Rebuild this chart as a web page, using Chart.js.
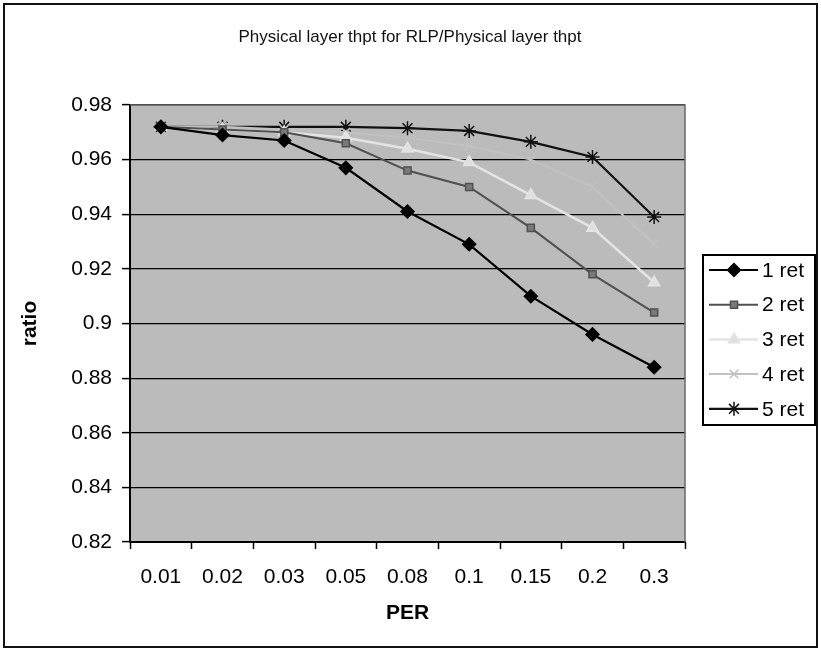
<!DOCTYPE html>
<html>
<head>
<meta charset="utf-8">
<title>Physical layer thpt for RLP/Physical layer thpt</title>
<script src="https://cdn.jsdelivr.net/npm/chart.js@4.4.1/dist/chart.umd.min.js"></script>
<style>
  html, body { margin: 0; padding: 0; background: #fff; }
  canvas { display: block; }
</style>
</head>
<body>
<canvas id="ratioChart" width="821" height="652"></canvas>
<script>
// PER values on the x axis
const perLabels = ['0.01', '0.02', '0.03', '0.05', '0.08', '0.1', '0.15', '0.2', '0.3'];

// ratio per number of retransmissions
const ret1 = [0.972, 0.969, 0.967, 0.957, 0.941, 0.929, 0.910, 0.896, 0.884];
const ret2 = [0.972, 0.971, 0.970, 0.966, 0.956, 0.950, 0.935, 0.918, 0.904];
const ret3 = [0.972, 0.971, 0.970, 0.968, 0.964, 0.959, 0.947, 0.935, 0.915];
const ret4 = [0.972, 0.972, 0.971, 0.970, 0.968, 0.965, 0.960, 0.950, 0.929];
const ret5 = [0.972, 0.972, 0.972, 0.972, 0.9715, 0.9705, 0.9665, 0.961, 0.939];

const yTicks = [0.82, 0.84, 0.86, 0.88, 0.9, 0.92, 0.94, 0.96, 0.98];

const FONT = '"Liberation Sans", Arial, Helvetica, sans-serif';
const PLOT_BG = '#bbbbbb';

function series(label, data, color, pointStyle, radius, fill, lineWidth) {
  return {
    label, data,
    borderColor: color,
    borderWidth: lineWidth,
    pointStyle,
    pointRadius: radius,
    pointHoverRadius: radius,
    pointBackgroundColor: fill,
    pointBorderColor: color,
    pointBorderWidth: 1.5,
    tension: 0,
    fill: false
  };
}

const datasets = [
  series('1 ret', ret1, '#000000', 'rectRot', 6.5, '#000000', 2.2),
  series('2 ret', ret2, '#505050', 'rect', 5, '#7a7a7a', 2),
  series('3 ret', ret3, '#e4e4e4', 'triangle', 6.5, '#e0e0e0', 2.5),
  series('4 ret', ret4, '#c1c1c1', 'crossRot', 6, '#c1c1c1', 2),
  series('5 ret', ret5, '#111111', 'star', 7, '#111111', 2.2)
];

// gray plot background, plot frame, title, outer border and boxed legend
const frame = {
  id: 'frame',
  beforeDraw(chart) {
    const { ctx, chartArea: a } = chart;
    ctx.save();
    ctx.fillStyle = PLOT_BG;
    ctx.fillRect(a.left, a.top, a.right - a.left, a.bottom - a.top);
    ctx.restore();
  },
  afterDatasetsDraw(chart) {
    const { ctx, chartArea: a } = chart;
    ctx.save();
    ctx.strokeStyle = '#6a6a6a';
    ctx.lineWidth = 1.5;
    ctx.beginPath();
    ctx.moveTo(a.left, a.top);
    ctx.lineTo(a.right, a.top);
    ctx.lineTo(a.right, a.bottom);
    ctx.stroke();
    ctx.restore();
  },
  afterDraw(chart) {
    const { ctx } = chart;
    ctx.save();
    // title
    ctx.fillStyle = '#111';
    ctx.font = '17px ' + FONT;
    ctx.textAlign = 'center';
    ctx.textBaseline = 'middle';
    ctx.fillText('Physical layer thpt for RLP/Physical layer thpt', 410, 37);

    // outer border
    ctx.strokeStyle = '#111';
    ctx.lineWidth = 2;
    ctx.strokeRect(4, 4, 813, 643);

    // legend box
    const lx = 703, ly = 255, lw = 112, lh = 170;
    ctx.fillStyle = '#fff';
    ctx.fillRect(lx, ly, lw, lh);
    ctx.strokeStyle = '#000';
    ctx.lineWidth = 2;
    ctx.strokeRect(lx, ly, lw, lh);

    ctx.font = '21px ' + FONT;
    ctx.textAlign = 'left';
    chart.data.datasets.forEach((ds, i) => {
      const y = ly + 15 + i * 34.7;
      ctx.strokeStyle = ds.borderColor;
      ctx.lineWidth = ds.borderWidth;
      ctx.beginPath();
      ctx.moveTo(lx + 6, y);
      ctx.lineTo(lx + 55, y);
      ctx.stroke();
      ctx.fillStyle = ds.pointBackgroundColor;
      ctx.strokeStyle = ds.pointBorderColor;
      ctx.lineWidth = ds.pointBorderWidth;
      Chart.helpers.drawPoint(ctx, { pointStyle: ds.pointStyle, radius: ds.pointRadius, borderWidth: ds.pointBorderWidth, rotation: 0 }, lx + 31, y);
      ctx.fillStyle = '#000';
      ctx.fillText(ds.label, lx + 59, y + 1);
    });
    ctx.restore();
  }
};

new Chart(document.getElementById('ratioChart'), {
  type: 'line',
  data: { labels: perLabels, datasets },
  options: {
    responsive: false,
    animation: false,
    layout: { padding: { left: 0, top: 105, right: 136, bottom: 0 } },
    plugins: {
      legend: { display: false },
      title: { display: false },
      tooltip: { enabled: false }
    },
    scales: {
      x: {
        type: 'category',
        offset: true,
        afterFit(scale) { scale.height = 110; },
        grid: { offset: true, drawOnChartArea: false, drawTicks: true, tickLength: 7, tickColor: '#000', tickWidth: 1.5 },
        border: { display: true, color: '#000', width: 2 },
        ticks: { color: '#000', font: { family: FONT, size: 21 }, padding: 16, maxRotation: 0, autoSkip: false },
        title: { display: true, text: 'PER', color: '#000', font: { family: FONT, size: 21, weight: 'bold' }, padding: { top: 0, bottom: 26 } }
      },
      y: {
        min: 0.82,
        max: 0.98,
        afterFit(scale) { scale.width = 130; },
        afterBuildTicks(scale) { scale.ticks = yTicks.map(v => ({ value: v })); },
        grid: { color: '#000', lineWidth: 1.2, drawTicks: true, tickLength: 8, tickColor: '#000', tickWidth: 1.5 },
        border: { display: true, color: '#000', width: 2 },
        ticks: {
          color: '#000',
          font: { family: FONT, size: 21 },
          padding: 10,
          callback: v => String(parseFloat(Number(v).toFixed(2)))
        },
        title: { display: true, text: 'ratio', color: '#000', font: { family: FONT, size: 21, weight: 'bold' }, padding: { top: 18, bottom: 0 } }
      }
    }
  },
  plugins: [frame]
});
</script>
</body>
</html>
